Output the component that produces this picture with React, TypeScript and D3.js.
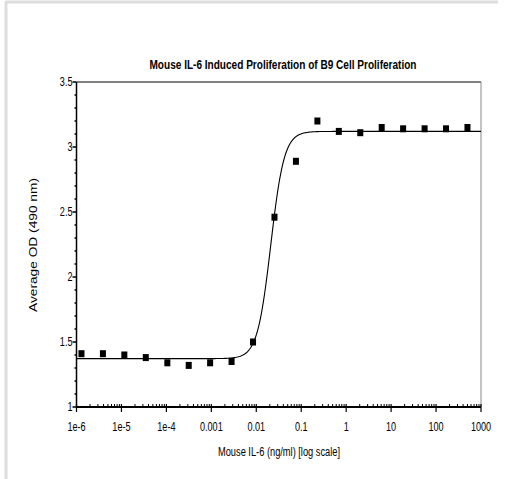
import React from 'react';
import * as d3 from 'd3';

// concentrations (ng/ml), 3-fold dilutions
const conc = [1.29e-6, 3.87e-6, 1.16e-5, 3.48e-5, 1.05e-4, 3.14e-4, 9.4e-4, 2.82e-3, 8.47e-3,
    0.0254, 0.0762, 0.229, 0.686, 2.06, 6.17, 18.5, 55.6, 166.7, 500];
const od = [1.41, 1.41, 1.40, 1.38, 1.34, 1.32, 1.34, 1.35, 1.50,
    2.46, 2.89, 3.20, 3.12, 3.11, 3.15, 3.14, 3.14, 3.14, 3.15];

// 4PL fit parameters
const fitBottom = 1.372;
const fitTop = 3.12;
const fitEC50 = 0.021;
const fitHill = 2.9;

const xTickLabels = ['1e-6', '1e-5', '1e-4', '0.001', '0.01', '0.1', '1', '10', '100', '1000'];
const yTickLabels = ['1', '1.5', '2', '2.5', '3', '3.5'];

const title = 'Mouse IL-6 Induced Proliferation of B9 Cell Proliferation';
const xTitle = 'Mouse IL-6 (ng/ml) [log scale]';
const yTitle = 'Average OD (490 nm)';

const W = 509, H = 479;
const left = 76.5, right = 481, top = 82, bottom = 407;
const font = '"Liberation Sans", Arial, sans-serif';

function Narrow({x, y, anchor, children}: {x: number, y: number, anchor: string, children: string}) {
    return (
        <text transform={`translate(${x},${y}) scale(0.7,1)`} textAnchor={anchor}
              fontFamily={font} fontSize={13} fill="#000">{children}</text>
    );
}

function App() {
    const x = d3.scaleLog().domain([1e-6, 1000]).range([left, right]);
    const y = d3.scaleLinear().domain([1, 3.5]).range([bottom, top]);

    const xTicks = x.ticks();
    const xMajor = xTicks.filter(t => Math.abs(Math.log10(t) - Math.round(Math.log10(t))) < 1e-9);
    const xMinor = xTicks.filter(t => !xMajor.includes(t));
    const yMajor = y.ticks(5);
    const yMinor = y.ticks(25).filter(t => !yMajor.some(m => Math.abs(m - t) < 1e-9));

    const fit = (c: number) => fitBottom + (fitTop - fitBottom) / (1 + Math.pow(fitEC50 / c, fitHill));
    const samples = d3.range(0, 401).map(i => Math.pow(10, -6 + i * 9 / 400));
    const line = d3.line<number>().x(c => x(c)).y(c => y(fit(c)));

    return (
        <svg width={W} height={H} style={{position: 'absolute', left: 0, top: 0, background: '#fff'}}>
            {/* outer frame */}
            <line x1={5} x2={498} y1={2} y2={2} stroke="#ddd" strokeWidth={3}/>
            <line x1={6} x2={6} y1={1} y2={H} stroke="#ddd" strokeWidth={3}/>

            <text x={283} y={69} textAnchor="middle" fontFamily={font} fontWeight="bold" fontSize={12}
                  textLength={267} lengthAdjust="spacingAndGlyphs">{title}</text>

            {/* frame */}
            <line x1={left} x2={right} y1={top} y2={top} stroke="#000" strokeWidth={1}/>
            <line x1={right} x2={right} y1={top} y2={bottom} stroke="#888" strokeWidth={1}/>

            {/* fitted curve */}
            <path d={line(samples) || ''} fill="none" stroke="#000" strokeWidth={1.1}/>

            {/* points */}
            {conc.map((c, i) => (
                <rect key={i} x={x(c) - 3} y={y(od[i]) - 3.5} width={6} height={7} fill="#000"/>
            ))}

            {/* y axis */}
            <line x1={left} x2={left} y1={top} y2={bottom + 1} stroke="#000" strokeWidth={1.5}/>
            {yMajor.map((t, i) => (
                <g key={'ym' + i}>
                    <line x1={left - 4} x2={left} y1={y(t)} y2={y(t)} stroke="#000" strokeWidth={1.5}/>
                    <Narrow x={left - 4} y={y(t) + 4} anchor="end">{yTickLabels[i]}</Narrow>
                </g>
            ))}
            {yMinor.map((t, i) => (
                <line key={'yn' + i} x1={left - 2} x2={left} y1={y(t)} y2={y(t)} stroke="#000" strokeWidth={1.5}/>
            ))}

            {/* x axis */}
            <line x1={left} x2={right} y1={bottom} y2={bottom} stroke="#000" strokeWidth={2}/>
            {xMajor.map((t, i) => (
                <g key={'xm' + i}>
                    <line x1={x(t)} x2={x(t)} y1={bottom - 3} y2={bottom + 5} stroke="#000" strokeWidth={1.2}/>
                    <Narrow x={x(t)} y={431} anchor="middle">{xTickLabels[i]}</Narrow>
                </g>
            ))}
            {xMinor.map((t, i) => (
                <line key={'xn' + i} x1={x(t)} x2={x(t)} y1={bottom - 3} y2={bottom} stroke="#000" strokeWidth={1}/>
            ))}

            <text x={279} y={456} textAnchor="middle" fontFamily={font} fontSize={12}
                  textLength={122} lengthAdjust="spacingAndGlyphs">{xTitle}</text>
            <text transform="translate(37,245) rotate(-90)" textAnchor="middle" fontFamily={font} fontSize={11}
                  textLength={134} lengthAdjust="spacingAndGlyphs">{yTitle}</text>
        </svg>
    );
}

export default App;
